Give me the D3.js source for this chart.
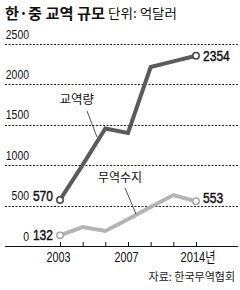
<!DOCTYPE html>
<html>
<head>
<meta charset="utf-8">
<script src="https://cdn.jsdelivr.net/npm/d3@7"></script>
<style>
  body { margin: 0; background: #fff; }
  svg { display: block; }
  .num { font-family: "Liberation Sans Narrow", "Arial Narrow", "Liberation Sans", sans-serif; }
  .kr { font-family: "Noto Sans CJK KR", sans-serif; }
</style>
</head>
<body>
<div id="chart"></div>
<script>
// periods on the x axis (evenly spaced), only some get a label
var periods = ['2003', '2005', '2006', '2007', '2010', '2013', '2014'];
var tickLabels = { '2003': '2003', '2007': '2007', '2014': '2014년' };

// 교역량 / 무역수지, 억달러
var tradeVolume = [570, 1005, 1455, 1400, 2215, 2285, 2354];
var tradeBalance = [132, 235, 186, 332, 482, 630, 553];

var yTicks = [0, 500, 1000, 1500, 2000, 2500];

var width = 240, height = 290;

// squeeze digits to a condensed width (no narrow font installed)
function narrow(sel, perDigit) {
    sel.attr('textLength', function() {
        return String(d3.select(this).text()).length * perDigit;
    }).attr('lengthAdjust', 'spacingAndGlyphs');
}

var svg = d3.select('#chart').append('svg')
    .attr('width', width)
    .attr('height', height);

var x = d3.scalePoint()
    .domain(periods)
    .range([60, 196]);

var y = d3.scaleLinear()
    .domain([0, 2500])
    .range([246, 44]);

// title
svg.append('text')
    .attr('class', 'kr')
    .attr('x', 5)
    .attr('y', 19)
    .attr('font-size', 15)
    .attr('font-weight', 'bold')
    .attr('fill', '#111')
    .attr('textLength', 100)
    .attr('lengthAdjust', 'spacingAndGlyphs')
    .text('한·중 교역 규모');

svg.append('text')
    .attr('class', 'kr')
    .attr('x', 108)
    .attr('y', 18)
    .attr('font-size', 13)
    .attr('fill', '#111')
    .attr('textLength', 69)
    .attr('lengthAdjust', 'spacingAndGlyphs')
    .text('단위: 억달러');

// dashed grid
svg.append('g')
    .selectAll('line')
    .data(yTicks.filter(function(d) { return d > 0; }))
    .enter()
    .append('line')
    .attr('x1', 5)
    .attr('x2', 238)
    .attr('y1', function(d) { return Math.round(y(d)) + 0.5; })
    .attr('y2', function(d) { return Math.round(y(d)) + 0.5; })
    .attr('stroke', '#222')
    .attr('stroke-width', 1)
    .attr('stroke-dasharray', '2,1.5');

svg.append('g')
    .selectAll('text')
    .data(yTicks)
    .enter()
    .append('text')
    .attr('class', 'num')
    .attr('x', 29)
    .attr('y', function(d) { return y(d) - 5.5; })
    .attr('text-anchor', 'end')
    .attr('font-size', 12.5)
    .attr('fill', '#111')
    .text(function(d) { return d; })
    .call(narrow, 5.8);

// x axis
svg.append('line')
    .attr('x1', 5)
    .attr('x2', 238)
    .attr('y1', 246.5)
    .attr('y2', 246.5)
    .attr('stroke', '#111')
    .attr('stroke-width', 1);

var xAxis = svg.append('g')
    .attr('transform', 'translate(0,246)')
    .call(d3.axisBottom(x)
        .tickSizeInner(-4)
        .tickSizeOuter(0)
        .tickFormat(function(d) { return tickLabels[d] || ''; }));

xAxis.select('.domain').remove();
xAxis.selectAll('.tick line').attr('stroke', '#111');
xAxis.selectAll('.tick text')
    .attr('y', 16)
    .attr('dy', 0)
    .attr('fill', '#111')
    .attr('font-size', 14)
    .attr('font-family', '"Liberation Sans Narrow", "Arial Narrow", "Liberation Sans", "Noto Sans CJK KR", sans-serif')
    .each(function(d) {
        var t = d3.select(this);
        if (d === '2014') {
            t.attr('textLength', 35).attr('lengthAdjust', 'spacingAndGlyphs').attr('dx', 1.5);
        } else if (t.text()) {
            t.attr('textLength', 24).attr('lengthAdjust', 'spacingAndGlyphs').attr('dx', -2);
        }
    });

var series = [
    { values: tradeVolume, color: '#5b5b5b', marker: '#444', startDy: 1, endDy: 5 },
    { values: tradeBalance, color: '#b4b4b4', marker: '#a8a8a8', startDy: 5, endDy: 2 }
];

var line = d3.line()
    .x(function(d, i) { return x(periods[i]); })
    .y(function(d) { return y(d); });

series.forEach(function(s) {
    svg.append('path')
        .datum(s.values)
        .attr('d', line)
        .attr('fill', 'none')
        .attr('stroke', s.color)
        .attr('stroke-width', 4)
        .attr('stroke-linejoin', 'miter');

    var last = s.values.length - 1;
    svg.selectAll(null)
        .data([0, last])
        .enter()
        .append('circle')
        .attr('cx', function(i) { return x(periods[i]); })
        .attr('cy', function(i) { return y(s.values[i]); })
        .attr('r', 3.2)
        .attr('fill', '#fff')
        .attr('stroke', s.marker)
        .attr('stroke-width', 1.5);

    // value labels: condensed digits, thickened a little
    svg.append('text')
        .attr('class', 'num')
        .attr('x', x(periods[0]) - 7)
        .attr('y', y(s.values[0]) + s.startDy)
        .attr('text-anchor', 'end')
        .attr('font-size', 15)
        .attr('fill', '#111')
        .attr('stroke', '#111')
        .attr('stroke-width', 0.45)
        .text(s.values[0])
        .call(narrow, 6.7);

    svg.append('text')
        .attr('class', 'num')
        .attr('x', x(periods[last]) + 7)
        .attr('y', y(s.values[last]) + s.endDy)
        .attr('font-size', 15)
        .attr('fill', '#111')
        .attr('stroke', '#111')
        .attr('stroke-width', 0.45)
        .text(s.values[last])
        .call(narrow, 6.7);
});

// series labels with leader lines
svg.append('text')
    .attr('class', 'kr')
    .attr('x', 59.5)
    .attr('y', 104)
    .attr('font-size', 12.5)
    .attr('fill', '#111')
    .text('교역량');

svg.append('line')
    .attr('x1', 87).attr('y1', 111)
    .attr('x2', 97).attr('y2', 137)
    .attr('stroke', '#222').attr('stroke-width', 0.8);

svg.append('text')
    .attr('class', 'kr')
    .attr('x', 98)
    .attr('y', 182)
    .attr('font-size', 12)
    .attr('fill', '#111')
    .text('무역수지');

svg.append('line')
    .attr('x1', 125).attr('y1', 188)
    .attr('x2', 136).attr('y2', 214)
    .attr('stroke', '#222').attr('stroke-width', 0.8);

// source
svg.append('text')
    .attr('class', 'kr')
    .attr('x', 235)
    .attr('y', 281)
    .attr('text-anchor', 'end')
    .attr('font-size', 11)
    .attr('fill', '#222')
    .text('자료: 한국무역협회');
</script>
</body>
</html>
